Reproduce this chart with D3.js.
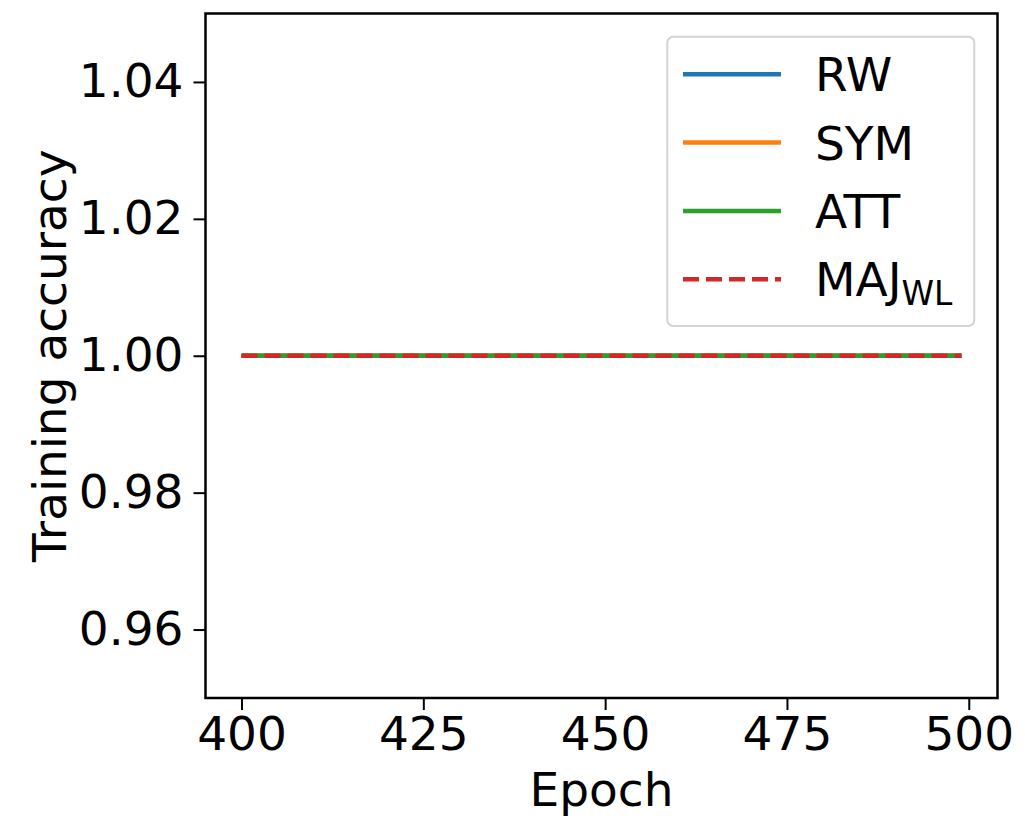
<!DOCTYPE html>
<html>
<head>
<meta charset="utf-8">
<script src="https://cdn.jsdelivr.net/npm/d3@7"></script>
<style>
  html, body { margin: 0; padding: 0; background: #fff; }
  svg { display: block; font-family: "DejaVu Sans", sans-serif; }
</style>
</head>
<body>
<svg id="chart" width="1025" height="821"></svg>
<script>
// ---- data ----
const epochs = [400, 425, 450, 475, 499];
const rwValues  = [1.0, 1.0, 1.0, 1.0, 1.0];
const symValues = [1.0, 1.0, 1.0, 1.0, 1.0];
const attValues = [1.0, 1.0, 1.0, 1.0, 1.0];
const majValues = [1.0, 1.0, 1.0, 1.0, 1.0];
const seriesNames = ["RW", "SYM", "ATT", "MAJ"];
const xTicks = [400, 425, 450, 475, 500];
const yTicks = [0.96, 0.98, 1.00, 1.02, 1.04];
const xDomain = [395.05, 503.95];
const yDomain = [0.95, 1.05];

// ---- layout ----
const svg = d3.select("#chart");
const L = 205.5, R = 997.5, T = 13.5, B = 698;
const FS = 47;

const x = d3.scaleLinear().domain(xDomain).range([L, R]);
const y = d3.scaleLinear().domain(yDomain).range([B, T]);

const series = [
  { name: "RW",  values: rwValues,  color: "#1f77b4", dash: null },
  { name: "SYM", values: symValues, color: "#ff7f0e", dash: null },
  { name: "ATT", values: attValues, color: "#2ca02c", dash: null },
  { name: "MAJ", values: majValues, color: "#d62728", dash: "16,7", sub: "WL" }
];

const line = d3.line().x(d => x(d[0])).y(d => y(d[1]));

const plot = svg.append("g");
series.forEach(s => {
  plot.append("path")
    .datum(epochs.map((e, i) => [e, s.values[i]]))
    .attr("d", line)
    .attr("fill", "none")
    .attr("stroke", s.color)
    .attr("stroke-width", 4.5)
    .attr("stroke-dasharray", s.dash);
});

// axes
const xAxis = d3.axisBottom(x).tickValues(xTicks).tickFormat(d3.format("d")).tickSize(12).tickPadding(7);
const yAxis = d3.axisLeft(y).tickValues(yTicks).tickFormat(d3.format(".2f")).tickSize(12).tickPadding(10);

const gx = svg.append("g").attr("transform", `translate(0,${B})`).call(xAxis);
const gy = svg.append("g").attr("transform", `translate(${L},0)`).call(yAxis);
[gx, gy].forEach(g => {
  g.select(".domain").remove();
  g.selectAll(".tick line").attr("stroke", "#000").attr("stroke-width", 2);
  g.selectAll(".tick text").attr("font-size", FS).attr("fill", "#000")
    .attr("font-family", "DejaVu Sans, sans-serif");
});

// frame
svg.append("rect")
  .attr("x", L).attr("y", T).attr("width", R - L).attr("height", B - T)
  .attr("fill", "none").attr("stroke", "#000").attr("stroke-width", 2.5);

// axis labels
svg.append("text")
  .attr("x", (L + R) / 2).attr("y", 806)
  .attr("text-anchor", "middle").attr("font-size", FS)
  .text("Epoch");
svg.append("text")
  .attr("transform", `translate(66,${(T + B) / 2}) rotate(-90)`)
  .attr("text-anchor", "middle").attr("font-size", FS)
  .text("Training accuracy");

// legend
const lg = svg.append("g");
lg.append("rect")
  .attr("x", 667.3).attr("y", 36.7).attr("width", 307).attr("height", 289.3)
  .attr("rx", 6).attr("ry", 6)
  .attr("fill", "rgba(255,255,255,0.8)").attr("stroke", "#d3d3d3").attr("stroke-width", 2);
series.forEach((s, i) => {
  const yy = 74.3 + i * 68.3;
  lg.append("line")
    .attr("x1", 683).attr("x2", 781).attr("y1", yy).attr("y2", yy)
    .attr("stroke", s.color).attr("stroke-width", 4.5)
    .attr("stroke-dasharray", s.dash);
  const t = lg.append("text")
    .attr("x", 815).attr("y", yy + 17)
    .attr("font-size", FS).attr("fill", "#000");
  t.append("tspan").text(s.name);
  if (s.sub) {
    t.append("tspan").attr("font-size", FS * 0.7).attr("dy", 9).text(s.sub);
  }
});
</script>
</body>
</html>
